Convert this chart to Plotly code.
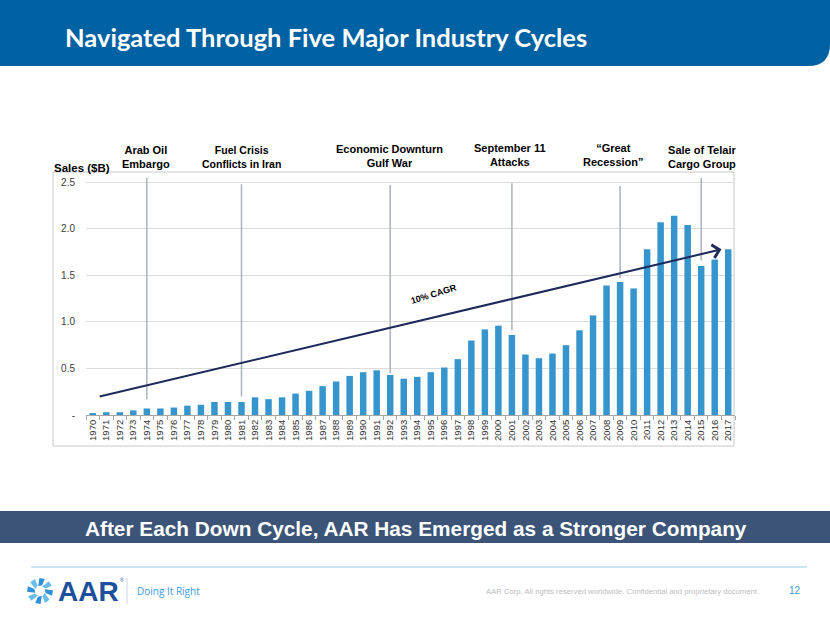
import math
import plotly.graph_objects as go

# ---------------- data ----------------
years = [str(y) for y in range(1970, 2018)]
sales = [0.02, 0.03, 0.03, 0.05, 0.07, 0.07, 0.08, 0.10, 0.11, 0.14,
         0.14, 0.14, 0.19, 0.17, 0.19, 0.23, 0.26, 0.31, 0.36, 0.42,
         0.46, 0.48, 0.43, 0.39, 0.41, 0.46, 0.51, 0.60, 0.80, 0.92,
         0.96, 0.86, 0.65, 0.61, 0.66, 0.75, 0.91, 1.07, 1.39, 1.43,
         1.36, 1.78, 2.07, 2.14, 2.04, 1.60, 1.67, 1.78]
y_tickvals = [0, 0.5, 1.0, 1.5, 2.0, 2.5]
y_ticktext = ["-", "0.5", "1.0", "1.5", "2.0", "2.5"]

event_labels = ["Arab Oil<br>Embargo", "Fuel Crisis<br>Conflicts in Iran",
                "Economic Downturn<br>Gulf War", "September 11<br>Attacks",
                "\u201cGreat<br>Recession\u201d", "Sale of Telair<br>Cargo Group"]
event_years = ["1974", "1981", "1992", "2001", "2009", "2015"]
event_line_top = [2.55, 2.48, 2.47, 2.49, 2.46, 2.55]
event_line_bottom = [0.17, 0.20, 0.45, 0.91, 1.47, 1.66]

trend_label = "10% CAGR"
trend_start = (0.4, 0.195)   # (category index, value)
trend_end = (46.5, 1.78)

title = "Navigated Through Five Major Industry Cycles"
banner = "After Each Down Cycle, AAR Has Emerged as a Stronger Company"
footer = "AAR Corp. All rights reserved worldwide. Confidential and proprietary document."
page_no = "12"

# ---------------- layout helpers ----------------
WIDTH, HEIGHT = 830, 623
L, R, T, B = 86, 735, 173, 415


def px(x):
    return (x - L) / (R - L)


def py(y):
    return (B - y) / (B - T)


ARIAL = "Liberation Sans, Arial, sans-serif"
BAR_COLOR = "#3795CE"
NAVY = "#1F2A5C"
LINE_GRAY = "#AAB3BC"

fig = go.Figure()
fig.add_trace(go.Bar(x=years, y=sales, marker=dict(color=BAR_COLOR, line=dict(width=0)),
                     hoverinfo="x+y", showlegend=False))

shapes = []
annotations = []

# header band with rounded bottom-right corner
r = 22
hp = (f"M {px(0)},{py(0)} L {px(830)},{py(0)} L {px(830)},{py(66 - r)} "
      f"Q {px(830)},{py(66)} {px(830 - r)},{py(66)} L {px(0)},{py(66)} Z")
shapes.append(dict(type="path", path=hp, xref="paper", yref="paper",
                   fillcolor="#0061A3", line=dict(width=0), layer="below"))
annotations.append(dict(text=f"<b>{title}</b>", x=px(63), y=py(37), xref="paper", yref="paper",
                        xanchor="left", yanchor="middle", showarrow=False,
                        font=dict(family="Lato, Open Sans, sans-serif", size=25.5, color="white")))

# chart frame
shapes.append(dict(type="rect", xref="paper", yref="paper", x0=px(53), x1=px(734),
                   y0=py(446), y1=py(172), line=dict(color="#C8C8C8", width=1),
                   fillcolor="rgba(0,0,0,0)", layer="below"))

# event lines + labels
for lab, yr, top, bot in zip(event_labels, event_years, event_line_top, event_line_bottom):
    xi = years.index(yr)
    shapes.append(dict(type="line", xref="x", yref="y", x0=xi, x1=xi, y0=bot, y1=top,
                       line=dict(color=LINE_GRAY, width=1.5), layer="above"))
label_pos = [(146, 157), (241, 157.5), (389, 156), (510, 155), (613, 155), (702, 157)]
label_size = [11, 10.5, 11, 11, 11, 11]
for lab, (lx, ly), sz in zip(event_labels, label_pos, label_size):
    annotations.append(dict(text=f"<b>{lab}</b>", x=px(lx), y=py(ly), xref="paper", yref="paper",
                            xanchor="center", yanchor="middle", showarrow=False, align="center",
                            font=dict(family=ARIAL, size=sz, color="black")))

# y axis title
annotations.append(dict(text="<b>Sales ($B)</b>", x=px(52), y=py(168), xref="paper", yref="paper",
                        xanchor="left", yanchor="middle", showarrow=False,
                        font=dict(family=ARIAL, size=11.5, color="black")))

# trend arrow
annotations.append(dict(text="", x=trend_end[0], y=trend_end[1], ax=trend_start[0], ay=trend_start[1],
                        xref="x", yref="y", axref="x", ayref="y", showarrow=True,
                        arrowhead=4, arrowsize=1.3, arrowwidth=2, arrowcolor=NAVY, standoff=0))
annotations.append(dict(text=f"<b>{trend_label}</b>", x=px(434), y=py(294), xref="paper", yref="paper",
                        xanchor="center", yanchor="middle", showarrow=False, textangle=-17,
                        font=dict(family=ARIAL, size=9, color="black")))

# bottom banner
shapes.append(dict(type="rect", xref="paper", yref="paper", x0=px(0), x1=px(830),
                   y0=py(543), y1=py(511), fillcolor="#3B5478", line=dict(width=0), layer="below"))
annotations.append(dict(text=f"<b>{banner}</b>", x=px(416), y=py(528), xref="paper", yref="paper",
                        xanchor="center", yanchor="middle", showarrow=False,
                        font=dict(family=ARIAL, size=20.8, color="white")))

# footer divider
shapes.append(dict(type="line", xref="paper", yref="paper", x0=px(31), x1=px(807),
                   y0=py(567), y1=py(567), line=dict(color="#9CCBEB", width=1)))

# logo icon (pinwheel approximation)
cx, cy = 40, 591
for k in range(8):
    a = math.radians(k * 45)
    pts = []
    for rr, da in [(5, -0.35), (13, -0.05), (13, 0.38), (6, 0.35)]:
        pts.append((cx + rr * math.cos(a + da), cy + rr * math.sin(a + da)))
    path = "M " + " L ".join(f"{px(x)},{py(y)}" for x, y in pts) + " Z"
    shapes.append(dict(type="path", path=path, xref="paper", yref="paper",
                       fillcolor="#2F8FD8" if k % 2 == 0 else "#69BDEB", line=dict(width=0)))
annotations.append(dict(text="<b>AAR</b>", x=px(56), y=py(591), xref="paper", yref="paper",
                        xanchor="left", yanchor="middle", showarrow=False,
                        font=dict(family=ARIAL, size=28, color="#1D4F9C")))
annotations.append(dict(text="\u00ae", x=px(118), y=py(580), xref="paper", yref="paper",
                        xanchor="left", yanchor="middle", showarrow=False,
                        font=dict(family=ARIAL, size=5, color="#1D4F9C")))
shapes.append(dict(type="line", xref="paper", yref="paper", x0=px(127), x1=px(127),
                   y0=py(578), y1=py(604), line=dict(color="#D0D8E0", width=1)))
annotations.append(dict(text="Doing It Right", x=px(135), y=py(591), xref="paper", yref="paper",
                        xanchor="left", yanchor="middle", showarrow=False,
                        font=dict(family="Open Sans, sans-serif", size=10, color="#3C9AD8")))
annotations.append(dict(text=footer, x=px(761), y=py(591), xref="paper", yref="paper",
                        xanchor="right", yanchor="middle", showarrow=False,
                        font=dict(family=ARIAL, size=7.7, color="#BDBDBD")))
annotations.append(dict(text=page_no, x=px(795), y=py(590), xref="paper", yref="paper",
                        xanchor="center", yanchor="middle", showarrow=False,
                        font=dict(family=ARIAL, size=10, color="#3C9AD8")))

fig.update_layout(
    width=WIDTH, height=HEIGHT,
    margin=dict(l=L, r=WIDTH - R, t=T, b=HEIGHT - B, pad=0),
    paper_bgcolor="white", plot_bgcolor="white",
    bargap=0.52,
    shapes=shapes, annotations=annotations,
    showlegend=False,
    xaxis=dict(type="category", range=[-0.5, 47.5], tickangle=-90, tickson="boundaries",
               ticks="outside", ticklen=4, tickcolor="#A6A6A6", showline=True,
               linecolor="#A6A6A6", linewidth=1, showgrid=False, zeroline=False,
               tickfont=dict(family=ARIAL, size=9.5, color="#303030"), fixedrange=True),
    yaxis=dict(range=[0, 2.6], tickvals=y_tickvals, ticktext=y_ticktext, showgrid=True,
               gridcolor="#DCDCDC", gridwidth=1, zeroline=False, showline=False, ticks="",
               ticklabelstandoff=10,
               tickfont=dict(family=ARIAL, size=10, color="#404040"), fixedrange=True),
)

fig.write_html("out.html", config={"displayModeBar": False},
               post_script="document.body.style.margin='0';document.body.style.overflow='hidden';")
